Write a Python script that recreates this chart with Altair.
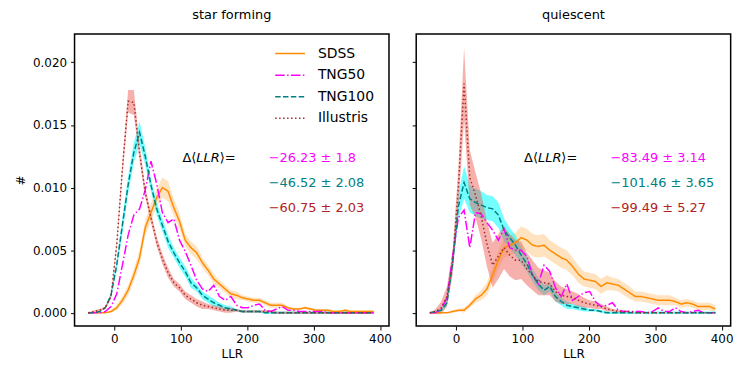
import altair as alt
import pandas as pd

# ---------------- data ----------------
LLR = [-39.5, -30.9, -22.3, -13.7, -5.1, 3.5, 12.1, 20.7, 29.3, 37.9, 46.5, 55.1,
       63.7, 72.3, 80.9, 89.5, 98.1, 106.7, 115.3, 123.9, 132.5, 141.1, 149.7,
       158.3, 166.9, 175.5, 184.1, 192.7, 201.3, 209.9, 218.5, 227.1, 235.7,
       244.3, 252.9, 261.5, 270.1, 278.7, 287.3, 295.9, 304.5, 313.1, 321.7,
       330.3, 338.9, 347.5, 356.1, 364.7, 373.3, 381.9, 390.5]

SERIES = ["SDSS", "TNG50", "TNG100", "Illustris"]

# star forming
SF_SDSS = [0, 0, 0, 0, 0.0001, 0.0004, 0.0010, 0.0018, 0.0030, 0.0044, 0.0068, 0.0080,
           0.0092, 0.0100, 0.0097, 0.0084, 0.0073, 0.0058, 0.0052, 0.0048, 0.0040, 0.0034,
           0.0027, 0.0023, 0.0019, 0.0015, 0.0014, 0.0012, 0.0011, 0.0010, 0.0010, 0.0008,
           0.0006, 0.0006, 0.0006, 0.0004, 0.0003, 0.0003, 0.0004, 0.0003, 0.0002, 0.0002,
           0.0002, 0.0001, 0.0001, 0.0002, 0.0001, 0.0001, 0.0001, 0.0001, 0.0001]
SF_TNG50 = [0, 0, 0, 0.0001, 0.0005, 0.0015, 0.0038, 0.0062, 0.0078, 0.0083, 0.0098, 0.0121,
            0.0103, 0.0080, 0.0072, 0.0075, 0.0058, 0.0049, 0.0038, 0.0026, 0.0019, 0.0017,
            0.0022, 0.0013, 0.0010, 0.0013, 0.0006, 0.0004, 0.0004, 0.0006, 0.0007, 0.0002,
            0.0001, 0.0003, 0.0005, 0.0002, 0.0002, 0.0001, 0.0001, 0.0001, 0.0001, 0.0001,
            0, 0, 0, 0, 0, 0, 0, 0, 0]
SF_TNG100 = [0, 0, 0.0001, 0.0004, 0.0014, 0.0038, 0.0070, 0.0102, 0.0128, 0.0144, 0.0125,
             0.0102, 0.0083, 0.0070, 0.0057, 0.0048, 0.0040, 0.0033, 0.0024, 0.0020, 0.0014,
             0.0011, 0.0008, 0.0006, 0.0004, 0.0003, 0.0002, 0.0001, 0.0001, 0.0001, 0.0001,
             0, 0, 0, 0, 0, 0, 0, 0, 0, 0, 0, 0, 0, 0, 0, 0, 0, 0, 0, 0]
SF_ILLUSTRIS = [0, 0.0001, 0.0002, 0.0004, 0.0013, 0.0054, 0.0115, 0.0169, 0.0168, 0.0128,
                0.0096, 0.0076, 0.0057, 0.0043, 0.0032, 0.0024, 0.0020, 0.0014, 0.0011,
                0.0008, 0.0006, 0.0005, 0.0004, 0.0003, 0.0002, 0.0002, 0.0002, 0.0001,
                0.0001, 0.0001, 0.0001, 0.0001, 0.0001, 0, 0, 0, 0, 0, 0, 0, 0, 0, 0, 0,
                0, 0, 0, 0, 0, 0, 0]
SF_SDSS_ERR = [0, 0, 0, 0, 0.0001, 0.0002, 0.0003, 0.0004, 0.0005, 0.0006, 0.0006, 0.0007,
               0.0007, 0.0008, 0.0008, 0.0007, 0.0006, 0.0005, 0.0005, 0.0005, 0.0004, 0.0004,
               0.0004, 0.0003, 0.0003, 0.0003, 0.0003, 0.0002, 0.0002, 0.0002, 0.0002, 0.0002,
               0.0002, 0.0002, 0.0002, 0.0001, 0.0001, 0.0001, 0.0001, 0.0001, 0.0001, 0.0001,
               0.0001, 0.0001, 0.0001, 0.0001, 0.0001, 0.0001, 0.0001, 0.0001, 0.0001]
SF_TNG100_ERR = [0, 0, 0, 0.0001, 0.0002, 0.0004, 0.0006, 0.0007, 0.0008, 0.0009, 0.0007,
                 0.0005, 0.0005, 0.0005, 0.0005, 0.0004, 0.0004, 0.0004, 0.0004, 0.0003,
                 0.0003, 0.0003, 0.0003, 0.0002, 0.0002, 0.0002, 0.0001, 0.0001, 0.0001,
                 0.0001, 0.0001, 0.0001, 0.0001, 0.0001, 0.0001, 0.0001, 0.0001, 0.0001,
                 0.0001, 0.0001, 0.0001, 0.0001, 0.0001, 0.0001, 0.0001, 0.0001, 0.0001,
                 0.0001, 0.0001, 0.0001, 0.0001]
SF_ILLUSTRIS_ERR = [0, 0.0001, 0.0001, 0.0001, 0.0002, 0.0003, 0.0005, 0.0009, 0.0010, 0.0006,
                    0.0004, 0.0004, 0.0004, 0.0004, 0.0004, 0.0003, 0.0003, 0.0003, 0.0003,
                    0.0003, 0.0003, 0.0002, 0.0002, 0.0002, 0.0002, 0.0002, 0.0001, 0.0001,
                    0.0001, 0.0001, 0.0001, 0.0001, 0.0001, 0.0001, 0.0001, 0.0001, 0.0001,
                    0.0001, 0.0001, 0.0001, 0.0001, 0.0001, 0.0001, 0.0001, 0.0001, 0.0001,
                    0.0001, 0.0001, 0.0001, 0.0001, 0.0001]

# quiescent
Q_SDSS = [0, 0, 0, 0, 0.0001, 0.0002, 0.0002, 0.0006, 0.0011, 0.0014, 0.0019, 0.0030, 0.0042,
          0.0052, 0.0054, 0.0056, 0.0060, 0.0058, 0.0054, 0.0053, 0.0054, 0.0050, 0.0047,
          0.0044, 0.0042, 0.0037, 0.0031, 0.0027, 0.0026, 0.0025, 0.0021, 0.0024, 0.0023,
          0.0022, 0.0019, 0.0016, 0.0013, 0.0013, 0.0012, 0.0011, 0.0010, 0.0010, 0.0010,
          0.0009, 0.0007, 0.0008, 0.0007, 0.0005, 0.0005, 0.0005, 0.0003]
Q_TNG50 = [0, 0, 0.0003, 0.0012, 0.0045, 0.0076, 0.0082, 0.0052, 0.0080, 0.0079, 0.0072,
           0.0066, 0.0058, 0.0067, 0.0052, 0.0050, 0.0050, 0.0045, 0.0030, 0.0023, 0.0038,
           0.0033, 0.0020, 0.0013, 0.0023, 0.0010, 0.0013, 0.0016, 0.0017, 0.0009, 0.0005,
           0.0006, 0.0008, 0.0002, 0.0001, 0.0001, 0.0001, 0.0001, 0, 0.0001, 0.0004, 0.0001,
           0.0001, 0.0004, 0.0001, 0, 0.0001, 0.0002, 0, 0, 0]
Q_TNG100 = [0, 0.0001, 0.0002, 0.0008, 0.0040, 0.0085, 0.0104, 0.0091, 0.0088, 0.0086, 0.0084,
            0.0083, 0.0078, 0.0066, 0.0060, 0.0054, 0.0046, 0.0039, 0.0030, 0.0023, 0.0018,
            0.0021, 0.0013, 0.0009, 0.0006, 0.0005, 0.0004, 0.0003, 0.0002, 0.0002, 0.0001,
            0, 0, 0, 0, 0, 0, 0, 0, 0, 0, 0, 0, 0, 0, 0, 0, 0, 0, 0, 0]
Q_ILLUSTRIS = [0, 0.0001, 0.0004, 0.0013, 0.0040, 0.0100, 0.0183, 0.0108, 0.0094, 0.0077,
               0.0055, 0.0038, 0.0045, 0.0052, 0.0046, 0.0042, 0.0042, 0.0035, 0.0030, 0.0025,
               0.0024, 0.0023, 0.0017, 0.0014, 0.0013, 0.0012, 0.0010, 0.0008, 0.0007, 0.0006,
               0.0005, 0.0003, 0.0002, 0.0001, 0.0001, 0.0001, 0, 0, 0, 0, 0, 0, 0, 0, 0, 0,
               0, 0, 0, 0, 0]
Q_SDSS_ERR = [0, 0, 0, 0, 0.0001, 0.0001, 0.0002, 0.0002, 0.0003, 0.0004, 0.0005, 0.0006,
              0.0007, 0.0008, 0.0008, 0.0008, 0.0009, 0.0009, 0.0009, 0.0009, 0.0009, 0.0008,
              0.0008, 0.0008, 0.0008, 0.0007, 0.0007, 0.0006, 0.0006, 0.0006, 0.0006, 0.0006,
              0.0005, 0.0005, 0.0005, 0.0005, 0.0004, 0.0004, 0.0004, 0.0004, 0.0004, 0.0004,
              0.0004, 0.0003, 0.0003, 0.0003, 0.0003, 0.0003, 0.0003, 0.0003, 0.0003]
Q_TNG100_ERR = [0, 0.0001, 0.0001, 0.0003, 0.0006, 0.0010, 0.0013, 0.0011, 0.0011, 0.0011,
                0.0010, 0.0010, 0.0010, 0.0009, 0.0008, 0.0008, 0.0007, 0.0006, 0.0005, 0.0005,
                0.0004, 0.0004, 0.0004, 0.0003, 0.0003, 0.0002, 0.0002, 0.0002, 0.0001, 0.0001,
                0.0001, 0.0001, 0.0001, 0.0001, 0.0001, 0.0001, 0.0001, 0.0001, 0.0001, 0.0001,
                0.0001, 0.0001, 0.0001, 0.0001, 0.0001, 0.0001, 0.0001, 0.0001, 0.0001, 0.0001,
                0.0001]
Q_ILLUSTRIS_ERR = [0, 0.0002, 0.0005, 0.0008, 0.0010, 0.0016, 0.0029, 0.0022, 0.0018, 0.0018,
                   0.0018, 0.0018, 0.0018, 0.0017, 0.0017, 0.0016, 0.0015, 0.0013, 0.0012,
                   0.0011, 0.0010, 0.0009, 0.0008, 0.0007, 0.0006, 0.0005, 0.0005, 0.0004,
                   0.0003, 0.0003, 0.0002, 0.0002, 0.0001, 0.0001, 0.0001, 0, 0, 0, 0, 0, 0,
                   0, 0, 0, 0, 0, 0, 0, 0, 0, 0]

DELTA_PARTS = ["Δ⟨", "LLR", "⟩="]
SF_DELTAS = ["−26.23 ± 1.8", "−46.52 ± 2.08", "−60.75 ± 2.03"]
Q_DELTAS = ["−83.49 ± 3.14", "−101.46 ± 3.65", "−99.49 ± 5.27"]

XTICKS = [0, 100, 200, 300, 400]
YTICKS = [0.0, 0.005, 0.010, 0.015, 0.020]

# ---------------- styling ----------------
FONT = "DejaVu Sans"
LINE_COLORS = ["#ff8c00", "#ff00ff", "#008080", "#a52a2a"]
DASHES = [[1, 0], [9.6, 2.4, 1.5, 2.4], [5.5, 2.4], [1.5, 2.5]]
BANDS = [("SDSS", "#ff8c00", 0.25), ("TNG100", "#00ffff", 0.55), ("Illustris", "#ee5a50", 0.47)]
DELTA_COLORS = ["#ff00ff", "#008080", "#b22222"]
ANN_Y = [0.01238, 0.01035, 0.00833]
LABEL_X = 102.5
VALUE_X = 232.5
PART_DX = [0, 14, 37.5]
PART_STYLE = ["normal", "italic", "normal"]

x_scale = alt.Scale(domain=[-60, 413.6], nice=False, zero=False)
y_scale = alt.Scale(domain=[-0.00106, 0.02226], nice=False, zero=False)


def long_table(vals, errs):
    rows = []
    for s in SERIES:
        v = vals[s]
        e = errs.get(s)
        for i, x in enumerate(LLR):
            err = e[i] if e else 0.0
            rows.append({"series": s, "LLR": x, "val": v[i],
                         "lo": v[i] - err, "hi": v[i] + err})
    return pd.DataFrame(rows)


sf_df = long_table({"SDSS": SF_SDSS, "TNG50": SF_TNG50, "TNG100": SF_TNG100,
                    "Illustris": SF_ILLUSTRIS},
                   {"SDSS": SF_SDSS_ERR, "TNG100": SF_TNG100_ERR,
                    "Illustris": SF_ILLUSTRIS_ERR})
q_df = long_table({"SDSS": Q_SDSS, "TNG50": Q_TNG50, "TNG100": Q_TNG100,
                   "Illustris": Q_ILLUSTRIS},
                  {"SDSS": Q_SDSS_ERR, "TNG100": Q_TNG100_ERR,
                   "Illustris": Q_ILLUSTRIS_ERR})


def panel(df, title, deltas, first):
    xenc = alt.X("LLR:Q", scale=x_scale,
                 axis=alt.Axis(values=XTICKS, title="LLR", format="d"))
    if first:
        yaxis = alt.Axis(values=YTICKS, format=".3f", title="#", titlePadding=5)
    else:
        yaxis = alt.Axis(values=YTICKS, labels=False, title=None)

    layers = []
    for s, c, o in BANDS:
        layers.append(
            alt.Chart(df).transform_filter(alt.datum.series == s)
            .mark_area(color=c, opacity=o)
            .encode(x=xenc, y=alt.Y("lo:Q", scale=y_scale, axis=yaxis), y2="hi:Q")
        )
    if first:
        leg = alt.Legend(orient="none", legendX=201, legendY=9.7, title=None,
                         symbolType="stroke", symbolSize=900, symbolStrokeWidth=1.5,
                         labelFont=FONT, labelFontSize=14, labelColor="black",
                         labelOffset=12, rowPadding=1.7, clipHeight=20, padding=0)
    else:
        leg = None
    layers.append(
        alt.Chart(df).mark_line(strokeWidth=1.5)
        .encode(
            x=xenc,
            y=alt.Y("val:Q", scale=y_scale, axis=yaxis),
            color=alt.Color("series:N", scale=alt.Scale(domain=SERIES, range=LINE_COLORS),
                            legend=leg),
            strokeDash=alt.StrokeDash("series:N",
                                      scale=alt.Scale(domain=SERIES, range=DASHES),
                                      legend=leg),
        )
    )
    for t, dx, st in zip(DELTA_PARTS, PART_DX, PART_STYLE):
        lab_df = pd.DataFrame({"t": [t], "x": [LABEL_X], "y": [ANN_Y[0]]})
        layers.append(
            alt.Chart(lab_df).mark_text(align="left", baseline="middle", font=FONT,
                                        fontSize=13, color="black", dx=dx, fontStyle=st)
            .encode(x=alt.X("x:Q", scale=x_scale), y=alt.Y("y:Q", scale=y_scale),
                    text="t:N")
        )
    for t, yv, c in zip(deltas, ANN_Y, DELTA_COLORS):
        d = pd.DataFrame({"t": [t], "x": [VALUE_X], "y": [yv]})
        layers.append(
            alt.Chart(d).mark_text(align="left", baseline="middle", font=FONT,
                                   fontSize=13, color=c)
            .encode(x=alt.X("x:Q", scale=x_scale), y=alt.Y("y:Q", scale=y_scale),
                    text="t:N")
        )
    return alt.layer(*layers).properties(
        width=316.6, height=294,
        title=alt.Title(title, font=FONT, fontSize=13, fontWeight="normal",
                        color="black", offset=12),
    )


left = panel(sf_df, "star forming", SF_DELTAS, True)
right = panel(q_df, "quiescent", Q_DELTAS, False)

chart = alt.hconcat(left, right, spacing=18).resolve_scale(
    color="independent", strokeDash="independent"
).properties(
    padding={"left": 5, "top": -1, "right": 5, "bottom": 5}
).configure_view(
    stroke="black", strokeWidth=1.5
).configure_axis(
    domain=False, grid=False, tickColor="black", tickSize=4, tickWidth=1,
    labelColor="black", labelFont=FONT, labelFontSize=12, labelPadding=4,
    titleFont=FONT, titleFontSize=12, titleFontWeight="normal", titleColor="black"
)

chart.save("out.html", embed_options={"renderer": "svg", "actions": False})
